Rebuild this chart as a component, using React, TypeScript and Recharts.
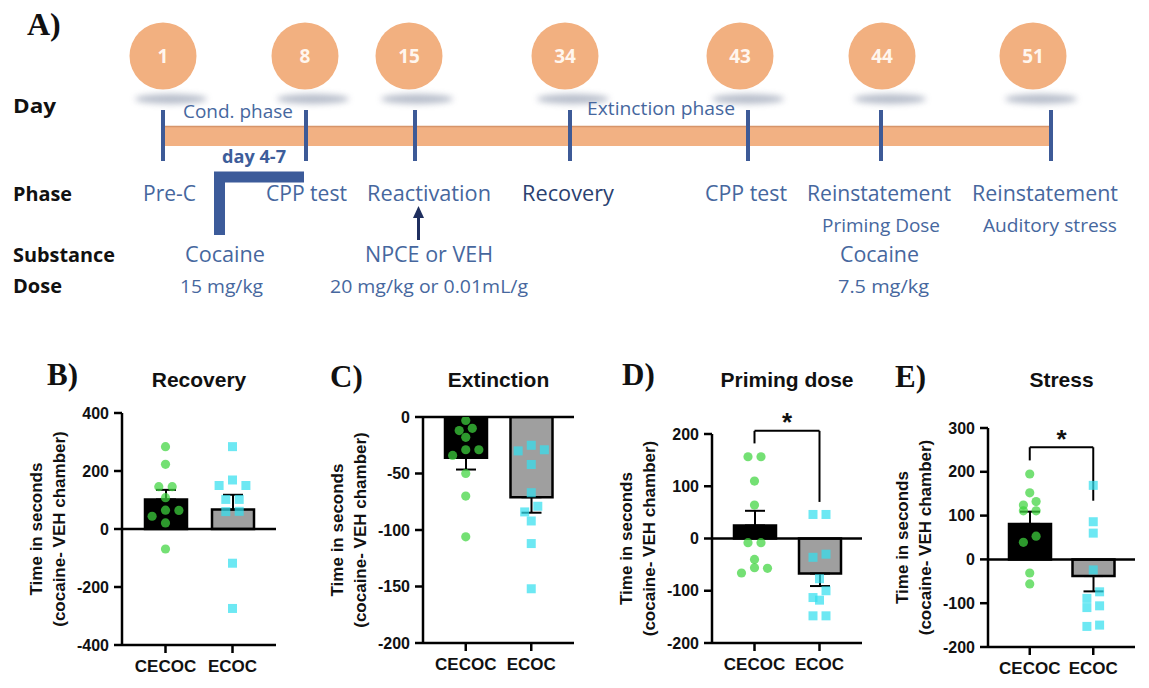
import React from 'react';
import { ComposedChart, Bar, Cell, ErrorBar, Scatter, XAxis, YAxis, ReferenceLine, ReferenceDot } from 'recharts';

// ---------- Panel A (timeline) ----------
const timelineDays = ['1', '8', '15', '34', '43', '44', '51'];
const rowLabels = ['Day', 'Phase', 'Substance', 'Dose'];
const phaseSpans = ['Cond. phase', 'Extinction phase'];
const phaseLabels = ['Pre-C', 'CPP test', 'Reactivation', 'Recovery', 'CPP test', 'Reinstatement', 'Reinstatement'];
const phaseSubLabels = ['Priming Dose', 'Auditory stress'];
const substanceLabels = ['Cocaine', 'NPCE or VEH', 'Cocaine'];
const doseLabels = ['15 mg/kg', '20 mg/kg or 0.01mL/g', '7.5 mg/kg'];
const condDays = 'day 4-7';

// ---------- Panels B-E ----------
const groups = ['CECOC', 'ECOC'];

const recoveryCECOC = [284, 223, 146, 146, 108, 65, 64, 44, 21, -69];
const recoveryECOC = [284, 169, 150, 150, 102, 102, 61, 60, -118, -274];
const recoveryMean = [102, 67];
const recoverySem = [33, 51];
const recoveryTicks = [-400, -200, 0, 200, 400];

const extinctionCECOC = [-3, -10, -12, -18, -29, -29, -34, -50, -70, -106];
const extinctionECOC = [-25, -29, -30, -42, -67, -79, -84, -92, -112, -152];
const extinctionMean = [-36, -71];
const extinctionSem = [10.5, 13.7];
const extinctionTicks = [-200, -150, -100, -50, 0];

const primingCECOC = [156.5, 156.5, 110, 64, -8, -8, -40, -56, -57, -66];
const primingECOC = [46, 46, -30, -36, -77, -100, -113, -118, -148, -148];
const primingMean = [25, -67];
const primingSem = [28, 24];
const primingTicks = [-200, -100, 0, 100, 200];
const primingSig = { left: 182, top: 206, right: 70, star: 233 };

const stressCECOC = [195, 152, 132, 124, 111, 111, 53, 39, -31, -56];
const stressECOC = [169, 86, 60, -24, -74, -89, -106, -110, -150, -153];
const stressMean = [81, -38];
const stressSem = [28, 35];
const stressTicks = [-200, -100, 0, 100, 200, 300];
const stressSig = { left: 226, top: 256, right: 134, star: 286 };

const panels = [
  { letter: 'B)', title: 'Recovery', a: recoveryCECOC, b: recoveryECOC, mean: recoveryMean, sem: recoverySem, ticks: recoveryTicks, sig: null as any, plot: { l: 122, t: 413, r: 276, b: 645 }, letterPos: [47, 385] },
  { letter: 'C)', title: 'Extinction', a: extinctionCECOC, b: extinctionECOC, mean: extinctionMean, sem: extinctionSem, ticks: extinctionTicks, sig: null as any, plot: { l: 423, t: 417, r: 574, b: 643 }, letterPos: [330, 387] },
  { letter: 'D)', title: 'Priming dose', a: primingCECOC, b: primingECOC, mean: primingMean, sem: primingSem, ticks: primingTicks, sig: primingSig, plot: { l: 712, t: 434, r: 862, b: 643 }, letterPos: [622, 385] },
  { letter: 'E)', title: 'Stress', a: stressCECOC, b: stressECOC, mean: stressMean, sem: stressSem, ticks: stressTicks, sig: stressSig, plot: { l: 988, t: 428, r: 1135, b: 647 }, letterPos: [895, 387] },
];

const AX = '"Liberation Sans", Arial, sans-serif';
const SERIF = '"Liberation Serif", "Times New Roman", serif';
const TL = '"Open Sans", "Noto Sans", sans-serif';
const STEP = 0.2;

// simple row-based beeswarm (like Prism scatter): points closer than ~7px share a row
function swarm(values: number[], pxPerUnit: number, idx: number) {
  const sorted = [...values].sort((a, b) => b - a);
  const rows: number[][] = [];
  for (const v of sorted) {
    const row = rows[rows.length - 1];
    if (row && (row[0] - v) * pxPerUnit < 7 && row.length < 3) row.push(v);
    else rows.push([v]);
  }
  const out: { x: number; y: number }[] = [];
  for (const row of rows) {
    const pattern = row.length === 1 ? [0] : row.length === 2 ? [0.5, -0.5] : [0, 1, -1];
    row.forEach((v, k) => out.push({ x: idx + pattern[k] * STEP, y: v }));
  }
  return out;
}

const GreenDot = (p: any) => <circle cx={p.cx} cy={p.cy} r={4.6} fill="#3ed43e" fillOpacity={0.72} />;
const CyanSquare = (p: any) => <rect x={p.cx - 4.5} y={p.cy - 4.5} width={9} height={9} fill="#35dfee" fillOpacity={0.72} />;

function Panel({ cfg }: { cfg: any }) {
  const { l, t, r, b } = cfg.plot;
  const plotW = r - l;
  const plotH = b - t;
  const mTop = 45, mRight = 10, mBottom = 12, mLeft = 62, yW = 60, xH = 33;
  const width = plotW + mLeft + yW + mRight;
  const height = plotH + mTop + mBottom + xH;
  const left = l - mLeft - yW;
  const top = t - mTop;
  const dom = [cfg.ticks[0], cfg.ticks[cfg.ticks.length - 1]];
  const ppu = plotH / (dom[1] - dom[0]);
  const barData = groups.map((g, i) => ({
    name: g,
    mean: cfg.mean[i],
    err: cfg.mean[i] >= 0 ? [0, cfg.sem[i]] : [cfg.sem[i], 0],
  }));
  const ptsA = swarm(cfg.a, ppu, 0);
  const ptsB = swarm(cfg.b, ppu, 1);
  const fills = ['#000000', '#9f9f9f'];
  const sig = cfg.sig;
  const yLabel = (p: any) => {
    const vb = p.viewBox || {};
    const px = vb.x + vb.width;
    const cy = vb.y + vb.height / 2;
    const st = { fontFamily: AX, fontWeight: 700, fontSize: 17, fill: '#111' } as any;
    return (
      <g>
        <text transform={`translate(${px - 86},${cy}) rotate(-90)`} textAnchor="middle" dominantBaseline="central" style={st}>Time in seconds</text>
        <text transform={`translate(${px - 63},${cy}) rotate(-90)`} textAnchor="middle" dominantBaseline="central" style={st}>(cocaine- VEH chamber)</text>
      </g>
    );
  };
  return (
    <div style={{ position: 'absolute', left, top, width, height }}>
      <ComposedChart width={width} height={height} data={barData} margin={{ top: mTop, right: mRight, bottom: mBottom, left: mLeft }}>
        <XAxis xAxisId="cat" dataKey="name" type="category" padding={{ left: 10, right: 10 }} tickSize={8} tickMargin={7}
          axisLine={{ stroke: '#000', strokeWidth: 2.5 }} tickLine={{ stroke: '#000', strokeWidth: 2.5 }}
          tick={{ fontFamily: AX, fontWeight: 700, fontSize: 17, fill: '#111' }} height={xH} interval={0} />
        <XAxis xAxisId="num" dataKey="x" type="number" domain={[-0.5, 1.5]} padding={{ left: 10, right: 10 }} hide allowDataOverflow />
        <YAxis type="number" domain={dom} ticks={cfg.ticks} interval={0} width={yW} tickSize={8} tickMargin={5}
          axisLine={{ stroke: '#000', strokeWidth: 2.5 }} tickLine={{ stroke: '#000', strokeWidth: 2.5 }}
          tick={{ fontFamily: AX, fontWeight: 700, fontSize: 16, fill: '#111' }} allowDataOverflow
          label={{ content: yLabel }} />
        <Bar xAxisId="cat" dataKey="mean" barSize={42} stroke="#000" strokeWidth={2.5} isAnimationActive={false}>
          {barData.map((d, i) => <Cell key={d.name} fill={fills[i]} />)}
          <ErrorBar dataKey="err" width={10} stroke="#000" strokeWidth={2} direction="y" />
        </Bar>
        <ReferenceLine xAxisId="cat" y={0} stroke="#000" strokeWidth={2.5} />
        <Scatter xAxisId="num" data={ptsA} dataKey="y" shape={GreenDot} isAnimationActive={false} />
        <Scatter xAxisId="num" data={ptsB} dataKey="y" shape={CyanSquare} isAnimationActive={false} />
        {sig && (
          <ReferenceLine xAxisId="num" ifOverflow="visible" stroke="#000" strokeWidth={2}
            segment={[{ x: 0, y: sig.left }, { x: 0, y: sig.top }]} />
        )}
        {sig && (
          <ReferenceLine xAxisId="num" ifOverflow="visible" stroke="#000" strokeWidth={2}
            segment={[{ x: 0, y: sig.top }, { x: 1, y: sig.top }]} />
        )}
        {sig && (
          <ReferenceLine xAxisId="num" ifOverflow="visible" stroke="#000" strokeWidth={2}
            segment={[{ x: 1, y: sig.top }, { x: 1, y: sig.right }]} />
        )}
        {sig && (
          <ReferenceDot xAxisId="num" x={0.5} y={sig.star} r={0} ifOverflow="visible"
            shape={(p: any) => (
              <text x={p.cx} y={p.cy + 14} textAnchor="middle" style={{ fontFamily: AX, fontWeight: 700, fontSize: 26, fill: '#111' }}>*</text>
            )} />
        )}
      </ComposedChart>
    </div>
  );
}

// layout of the timeline diagram (positions only)
const circleX = [163, 305, 409, 565, 740, 882, 1033];
const tickX = [163, 306, 415, 570, 748, 881, 1051];
const BLUE = '#46679e';
const NAVY = '#2a4170';

type TItem = [string, number, number, number, number, number, string];
const textItems: TItem[] = [
  // text, x, baseline, width, size, weight, color
  [rowLabels[0], 13, 113, 43, 20, 700, '#111'],
  [rowLabels[1], 13, 201, 59, 20, 700, '#111'],
  [rowLabels[2], 13, 262, 102, 20, 700, '#111'],
  [rowLabels[3], 13, 293, 49, 20, 700, '#111'],
  [phaseSpans[0], 183, 118, 110, 19, 400, BLUE],
  [phaseSpans[1], 587, 115, 148, 19, 400, BLUE],
  [condDays, 222, 163, 64, 18, 700, '#3d5d9a'],
  [phaseLabels[0], 143, 201, 53, 21, 400, BLUE],
  [phaseLabels[1], 266, 201, 81, 21, 400, BLUE],
  [phaseLabels[2], 367, 201, 124, 21, 400, BLUE],
  [phaseLabels[3], 522, 201, 92, 21, 400, NAVY],
  [phaseLabels[4], 705, 201, 82, 21, 400, BLUE],
  [phaseLabels[5], 807, 201, 144, 21, 400, BLUE],
  [phaseLabels[6], 972, 201, 146, 21, 400, BLUE],
  [phaseSubLabels[0], 822, 232, 118, 18, 400, BLUE],
  [phaseSubLabels[1], 983, 232, 134, 18, 400, BLUE],
  [substanceLabels[0], 185, 262, 80, 21, 400, BLUE],
  [substanceLabels[1], 365, 262, 128, 21, 400, BLUE],
  [substanceLabels[2], 840, 262, 79, 21, 400, BLUE],
  [doseLabels[0], 180, 293, 83, 18, 400, BLUE],
  [doseLabels[1], 330, 293, 198, 18, 400, BLUE],
  [doseLabels[2], 838, 293, 91, 18, 400, BLUE],
];

function Overlay() {
  return (
    <svg width={1149} height={688} style={{ position: 'absolute', left: 0, top: 0 }}>
      <defs>
        <filter id="blur" x="-50%" y="-100%" width="200%" height="300%">
          <feGaussianBlur stdDeviation="3" />
        </filter>
      </defs>
      <text x={27} y={35} style={{ fontFamily: SERIF, fontWeight: 700, fontSize: 32, fill: '#111' }}>A)</text>
      {circleX.map((x, i) => (
        <ellipse key={'s' + i} cx={x + 8} cy={99} rx={36} ry={5} fill="#9aa3b5" opacity={0.7} filter="url(#blur)" />
      ))}
      {circleX.map((x, i) => (
        <g key={'c' + i}>
          <circle cx={x} cy={56} r={33.5} fill="#f2b080" />
          <text x={x} y={63} textAnchor="middle" style={{ fontFamily: TL, fontWeight: 700, fontSize: 19, fill: '#fff6ee' }}>{timelineDays[i]}</text>
        </g>
      ))}
      <rect x={tickX[0]} y={126} width={tickX[6] - tickX[0]} height={20} fill="#f2b183" />
      <line x1={tickX[0]} y1={126.5} x2={tickX[6]} y2={126.5} stroke="#d6956a" strokeWidth={1.5} />
      {tickX.map((x, i) => (
        <line key={'t' + i} x1={x} y1={110} x2={x} y2={161} stroke="#3d5a97" strokeWidth={4} />
      ))}
      <polyline points="219.5,235 219.5,177 304,177" fill="none" stroke="#3c5b9a" strokeWidth={11} strokeLinejoin="miter" />
      <line x1={418.5} y1={240} x2={418.5} y2={216} stroke="#1f2f5f" strokeWidth={3} />
      <polygon points="418.5,206 413,218 424,218" fill="#1f2f5f" />
      {textItems.map(([s, x, y, w, fs, fw, c], i) => (
        <text key={'tx' + i} x={x} y={y} textLength={w} lengthAdjust="spacingAndGlyphs"
          style={{ fontFamily: TL, fontSize: fs, fontWeight: fw, fill: c }}>{s}</text>
      ))}
      {panels.map((p) => (
        <g key={p.letter}>
          <text x={p.letterPos[0]} y={p.letterPos[1]} style={{ fontFamily: SERIF, fontWeight: 700, fontSize: 31, fill: '#111' }}>{p.letter}</text>
          <text x={(p.plot.l + p.plot.r) / 2} y={387} textAnchor="middle" style={{ fontFamily: AX, fontWeight: 700, fontSize: 21, fill: '#111' }}>{p.title}</text>
        </g>
      ))}
    </svg>
  );
}

export default function App() {
  return (
    <div style={{ position: 'absolute', left: 0, top: 0, width: 1149, height: 688, overflow: 'hidden', background: '#fff' }}>
      <Overlay />
      {panels.map((p) => <Panel key={p.letter} cfg={p} />)}
    </div>
  );
}
